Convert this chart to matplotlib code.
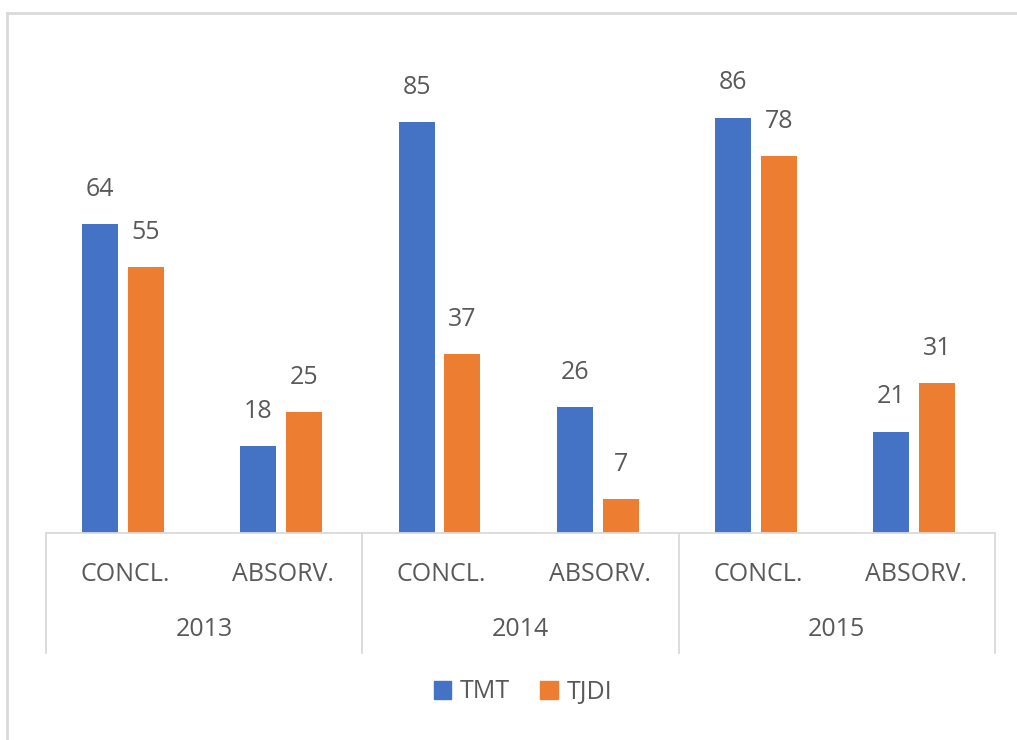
#!/usr/bin/env python
"""Clustered bars: TMT vs TJDI by year and category."""

import matplotlib.pyplot as plt
from matplotlib.lines import Line2D
from matplotlib.patches import Patch
import matplotlib.transforms as mtransforms

years = ["2013", "2014", "2015"]
categories = ["CONCL.", "ABSORV."]
tmt = [64, 18, 85, 26, 86, 21]
tjdi = [55, 25, 37, 7, 78, 31]
series_names = ["TMT", "TJDI"]

BLUE = "#4472C4"
ORANGE = "#ED7D31"
TEXT = "#595959"
GRID = "#D9D9D9"
FS = 18

plt.rcParams["font.family"] = ["Open Sans", "DejaVu Sans"]


def main():
    fig = plt.figure(figsize=(10.17, 7.4), dpi=100)
    ax = fig.add_axes([46 / 1017, 1 - 533 / 740, 949 / 1017, 483 / 740])

    n = len(tmt)
    x = list(range(n))
    width = 0.228
    off = 0.145
    shift = -0.012

    ax.bar([i - off + shift for i in x], tmt, width, color=BLUE,
           label=series_names[0])
    ax.bar([i + off + shift for i in x], tjdi, width, color=ORANGE,
           label=series_names[1])

    for i in x:
        for xi, v in ((i - off + shift, tmt[i]), (i + off + shift, tjdi[i])):
            ax.annotate(
                str(v), (xi, v), xytext=(0, 25), textcoords="offset points",
                ha="center", va="center", fontsize=FS, color=TEXT,
            )

    ax.set_xlim(-0.5, n - 0.5)
    ax.set_ylim(0, 100)
    ax.set_xticks([])
    ax.set_yticks([])
    for s in ax.spines.values():
        s.set_visible(False)

    # multi-level category axis
    trans = mtransforms.blended_transform_factory(ax.transData, ax.transAxes)
    ax.add_line(Line2D([-0.5, n - 0.5], [0, 0], transform=trans,
                       color=GRID, lw=1.3, clip_on=False))
    for j in range(len(years) + 1):
        xs = -0.5 + 2 * j
        ax.add_line(Line2D([xs, xs], [0, -0.248], transform=trans,
                           color=GRID, lw=1.3, clip_on=False))
    for i in x:
        ax.text(i, -0.085, categories[i % 2], transform=trans, ha="center",
                va="center", fontsize=FS, color=TEXT)
    for j, yr in enumerate(years):
        ax.text(2 * j + 0.5, -0.2, yr, transform=trans, ha="center",
                va="center", fontsize=FS, color=TEXT)

    handles = [Patch(color=BLUE), Patch(color=ORANGE)]
    fig.legend(handles, series_names, loc="center",
               bbox_to_anchor=(523 / 1017, 1 - 692 / 740), ncol=2,
               frameon=False, fontsize=FS, labelcolor=TEXT,
               handlelength=0.7, handleheight=0.7, handletextpad=0.35,
               columnspacing=1.2)

    # chart border (top and left visible)
    fig.add_artist(Line2D([7 / 1017, 1], [1 - 13 / 740] * 2,
                          transform=fig.transFigure, color="#D9D9D9", lw=2))
    fig.add_artist(Line2D([7 / 1017] * 2, [0, 1 - 13 / 740],
                          transform=fig.transFigure, color="#D9D9D9", lw=2))

    fig.savefig("out.png", dpi=100)


if __name__ == "__main__":
    main()
